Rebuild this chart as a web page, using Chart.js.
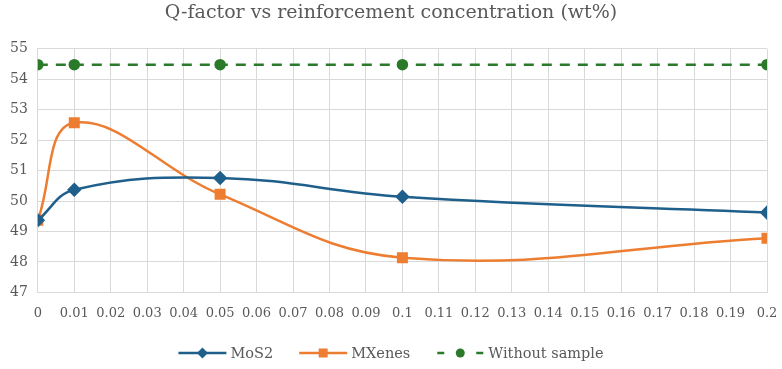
<!DOCTYPE html>
<html>
<head>
<meta charset="utf-8">
<script src="https://cdn.jsdelivr.net/npm/chart.js@4"></script>
<style>
  html, body { margin: 0; padding: 0; background: #fff; }
  #wrap { width: 782px; height: 369px; }
</style>
</head>
<body>
<div id="wrap"><canvas id="qChart" width="782" height="369"></canvas></div>
<script>
const concentrations = [0, 0.01, 0.05, 0.1, 0.2];
const mos2Values = [49.37, 50.37, 50.76, 50.14, 49.62];
const mxenesValues = [49.37, 52.57, 50.22, 48.14, 48.78];
const withoutSampleValues = [54.48, 54.48, 54.48, 54.48, 54.48];
const xTickLabels = ['0', '0.01', '0.02', '0.03', '0.04', '0.05', '0.06', '0.07', '0.08', '0.09', '0.1',
  '0.11', '0.12', '0.13', '0.14', '0.15', '0.16', '0.17', '0.18', '0.19', '0.2'];
const yTickLabels = ['47', '48', '49', '50', '51', '52', '53', '54', '55'];

const blue = '#1f5f8b';
const orange = '#ed7d31';
const green = '#2a7a2a';
const textGray = '#595959';
const gridGray = '#d9d9d9';
const serif = "'DejaVu Serif', serif";

const toPoints = (ys) => concentrations.map((x, i) => ({ x: x, y: ys[i] }));

// legend drawn by hand: line with the marker in the middle, like Excel does
const bottomLegend = {
  id: 'bottomLegend',
  afterDraw(chart) {
    const g = chart.ctx;
    const sets = chart.data.datasets;
    const y = 353;
    const symW = 48, textGap = 4, itemGap = 26;
    g.save();
    g.font = '14.5px ' + serif;
    g.textBaseline = 'middle';
    const widths = sets.map((ds) => g.measureText(ds.label).width);
    let total = 0;
    widths.forEach((w) => { total += symW + textGap + w; });
    total += itemGap * (sets.length - 1);
    let x = chart.width / 2 - total / 2;
    sets.forEach((ds, i) => {
      g.strokeStyle = ds.borderColor;
      g.fillStyle = ds.borderColor;
      g.lineWidth = 2.5;
      g.beginPath();
      if (ds.borderDash) {
        g.moveTo(x + 1, y); g.lineTo(x + 8, y);
        g.moveTo(x + 40, y); g.lineTo(x + 47, y);
      } else {
        g.moveTo(x, y); g.lineTo(x + symW, y);
      }
      g.stroke();
      const cx = x + symW / 2;
      g.beginPath();
      if (ds.pointStyle === 'rectRot') {
        g.moveTo(cx, y - 5.5); g.lineTo(cx + 5.5, y); g.lineTo(cx, y + 5.5); g.lineTo(cx - 5.5, y);
        g.closePath();
      } else if (ds.pointStyle === 'rect') {
        g.rect(cx - 4.5, y - 4.5, 9, 9);
      } else {
        g.arc(cx, y, 4.5, 0, Math.PI * 2);
      }
      g.fill();
      g.fillStyle = textGray;
      g.fillText(ds.label, x + symW + textGap, y + 1);
      x += symW + textGap + widths[i] + itemGap;
    });
    g.restore();
  }
};

const ctx = document.getElementById('qChart').getContext('2d');

const chart = new Chart(ctx, {
  type: 'line',
  data: {
    datasets: [{
      label: 'MoS2',
      data: toPoints(mos2Values),
      borderColor: blue,
      backgroundColor: blue,
      borderWidth: 2.5,
      pointStyle: 'rectRot',
      pointRadius: 5.5,
      tension: 0.4,
      fill: false
    }, {
      label: 'MXenes',
      data: toPoints(mxenesValues),
      borderColor: orange,
      backgroundColor: orange,
      borderWidth: 2.5,
      pointStyle: 'rect',
      pointRadius: 6,
      tension: 0.4,
      fill: false
    }, {
      label: 'Without sample',
      data: toPoints(withoutSampleValues),
      borderColor: green,
      backgroundColor: green,
      borderWidth: 2.5,
      borderDash: [10, 8],
      pointStyle: 'circle',
      pointRadius: 4.5,
      tension: 0,
      fill: false
    }]
  },
  options: {
    responsive: false,
    animation: false,
    layout: { padding: { left: 0, right: 0, top: 0, bottom: 35 } },
    plugins: {
      title: {
        display: true,
        text: 'Q-factor vs reinforcement concentration (wt%)',
        color: textGray,
        font: { family: serif, size: 19, weight: 'normal' },
        padding: { top: 2, bottom: 24 }
      },
      legend: { display: false },
      tooltip: { enabled: false }
    },
    scales: {
      x: {
        type: 'linear',
        min: 0,
        max: 0.2,
        afterBuildTicks: (axis) => {
          axis.ticks = xTickLabels.map((t) => ({ value: parseFloat(t) }));
        },
        afterFit: (axis) => {
          axis.paddingRight = 15;
        },
        ticks: {
          color: textGray,
          font: { family: serif, size: 13 },
          padding: 13,
          maxRotation: 0,
          autoSkip: false,
          callback: (v, i) => xTickLabels[i]
        },
        grid: { color: gridGray, lineWidth: 1, drawTicks: false },
        border: { color: gridGray }
      },
      y: {
        min: 47,
        max: 55,
        afterBuildTicks: (axis) => {
          axis.ticks = yTickLabels.map((t) => ({ value: parseFloat(t) }));
        },
        ticks: {
          color: textGray,
          font: { family: serif, size: 14 },
          padding: 10,
          callback: (v, i) => yTickLabels[i]
        },
        grid: { color: gridGray, lineWidth: 1, drawTicks: false },
        border: { color: gridGray }
      }
    }
  },
  plugins: [bottomLegend]
});
</script>
</body>
</html>
